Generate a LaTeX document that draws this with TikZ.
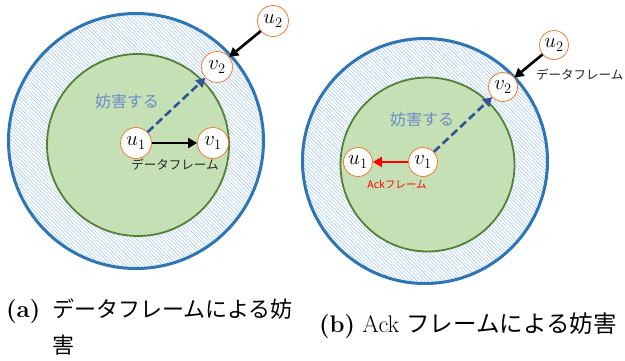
\documentclass[tikz,border=0pt]{standalone}
\usepackage{fontspec}
\newfontfamily\jp{Noto Sans CJK JP}
\usetikzlibrary{arrows.meta,patterns.meta}
\definecolor{outerblue}{HTML}{2E75B6}
\definecolor{hatchblue}{HTML}{A8CAEA}
\definecolor{innergreen}{HTML}{C5E0B4}
\definecolor{darkgreen}{HTML}{548235}
\definecolor{nodeorange}{HTML}{ED7D31}
\definecolor{dashblue}{HTML}{2F5597}
\definecolor{labelblue}{HTML}{6A8DC9}
\definecolor{textgray}{HTML}{262626}
\definecolor{ackred}{HTML}{FF0000}
\begin{document}
\begin{tikzpicture}[x=1pt,y=-1pt,
  outerring/.style={draw=outerblue, line width=3pt, preaction={fill=white},
    pattern={Lines[angle=-45,distance=2.6pt,line width=0.6pt]}, pattern color=hatchblue},
  innerdisk/.style={draw=darkgreen, line width=1.8pt, fill=innergreen},
  station/.style={circle, draw=nodeorange, line width=0.8pt, fill=white,
    minimum size=#1, inner sep=0pt, font=\fontsize{22}{22}\selectfont},
  blackarrow/.style={draw=black, line width=2.6pt, -{Triangle[length=9pt,width=10pt]}},
  redarrow/.style={draw=ackred, line width=2.6pt, -{Triangle[length=9pt,width=10pt]}},
  dasharrow/.style={draw=dashblue, line width=2.6pt, dash pattern=on 8pt off 4pt,
    -{Triangle[length=9pt,width=10pt]}},
  jamlabel/.style={text=labelblue, font=\jp\fontsize{16}{16}\selectfont, inner sep=0pt},
  framelabel/.style={text=textgray, font=\jp\fontsize{12.5}{12.5}\selectfont, inner sep=0pt},
  acklabel/.style={text=ackred, font=\jp\fontsize{10.5}{10.5}\selectfont, inner sep=0pt},
  caption/.style={anchor=base west, inner sep=0pt}
]
\useasboundingbox (0,0) rectangle (625,360);

% ---------- (a) ----------
\path[outerring] (136,141) circle[radius=127.5pt];
\path[innerdisk] (138,145) circle[radius=91pt];

\node[station=31pt] (lu1) at (136,143) {$u_1$};
\node[station=31pt] (lv1) at (213,143) {$v_1$};
\node[station=31pt] (lv2) at (217,67) {$v_2$};
\node[station=31pt] (lu2) at (273,21) {$u_2$};

\draw[blackarrow] (lu1) -- (lv1);
\draw[dasharrow] (lu1) -- (lv2);
\draw[blackarrow] (lu2) -- (lv2);

\node[jamlabel] (ljam) at (127,101) {妨害する};
\node[framelabel] (lframe) at (175,165) {データフレーム};

% ---------- (b) ----------
\path[outerring] (425,161) circle[radius=122.5pt];
\path[innerdisk] (427.5,164.5) circle[radius=87pt];

\node[station=29pt] (ru1) at (358,162) {$u_1$};
\node[station=29pt] (rv1) at (423,162) {$v_1$};
\node[station=29pt] (rv2) at (503,87) {$v_2$};
\node[station=29pt] (ru2) at (554,45) {$u_2$};

\draw[redarrow] (rv1) -- (ru1);
\draw[dasharrow] (rv1) -- (rv2);
\draw[blackarrow] (ru2) -- (rv2);

\node[jamlabel] (rjam) at (422,119) {妨害する};
\node[framelabel, anchor=west] (rframe) at (536,75) {データフレーム};
\node[acklabel] (rack) at (397,184) {Ackフレーム};

% ---------- captions ----------
\node[caption, font=\fontsize{24}{24}\selectfont\bfseries] (capa) at (6,317) {(a)};
\node[caption, font=\jp\fontsize{22}{22}\selectfont] (capa1) at (52,317) {データフレームによる妨};
\node[caption, font=\jp\fontsize{22}{22}\selectfont] (capa2) at (52,353) {害};
\node[caption, font=\fontsize{24}{24}\selectfont] (capb) at (319,332)
  {\textbf{(b)} Ack {\jp\fontsize{23.5}{23.5}\selectfont フレームによる妨害}};
\end{tikzpicture}
\end{document}
